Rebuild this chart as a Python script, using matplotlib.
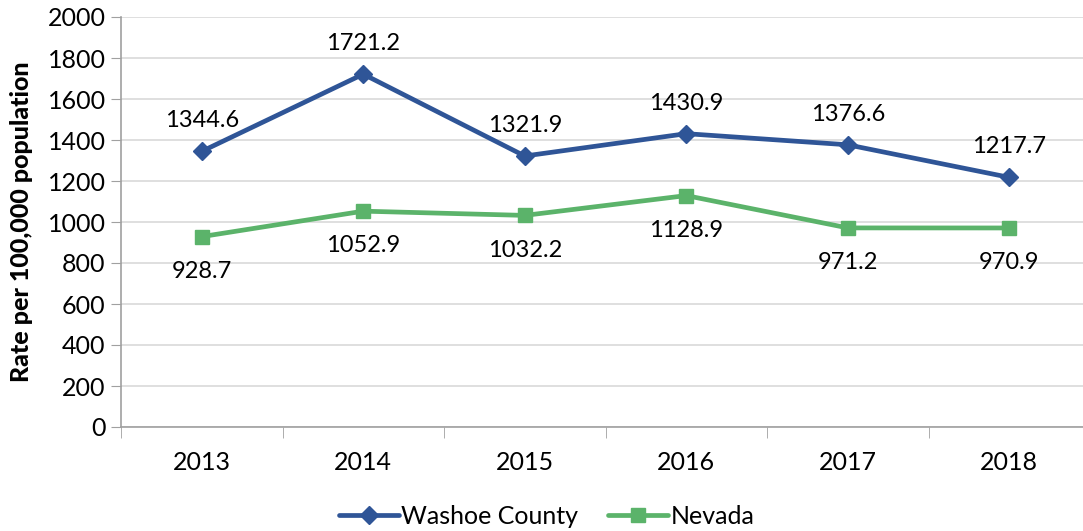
import matplotlib
matplotlib.use("Agg")
import matplotlib.pyplot as plt
import numpy as np

# ── Data ──────────────────────────────────────────────────────────────────────
YEARS   = ["2013", "2014", "2015", "2016", "2017", "2018"]
WASHOE  = [1344.6, 1721.2, 1321.9, 1430.9, 1376.6, 1217.7]
NEVADA  = [928.7, 1052.9, 1032.2, 1128.9, 971.2, 970.9]

BLUE  = "#2F5597"
GREEN = "#5BB36A"
AXIS  = "#A0A0A0"
GRID  = "#D9D9D9"

plt.rcParams["font.family"] = ["Lato", "DejaVu Sans"]

fig = plt.figure(figsize=(10.83, 5.31), dpi=100)
# plot area runs slightly past the right edge, as in the original crop
ax = fig.add_axes([121 / 1083, 104 / 531, 969 / 1083, 410 / 531])

x = np.arange(len(YEARS))
ax.plot(x, WASHOE, color=BLUE, linewidth=3.4, marker="D", markersize=9,
        label="Washoe County", solid_capstyle="round", zorder=3)
ax.plot(x, NEVADA, color=GREEN, linewidth=3.4, marker="s", markersize=10,
        label="Nevada", solid_capstyle="round", zorder=3)

for xi, v in zip(x, WASHOE):
    ax.annotate(f"{v:.1f}", (xi, v), xytext=(0, 22), textcoords="offset points",
                ha="center", va="center", fontsize=17, color="black")
for xi, v in zip(x, NEVADA):
    ax.annotate(f"{v:.1f}", (xi, v), xytext=(0, -25), textcoords="offset points",
                ha="center", va="center", fontsize=17, color="black")

ax.set_xlim(-0.5, len(YEARS) - 0.5)
ax.set_ylim(0, 2000)
ax.set_yticks(range(0, 2001, 200))
ax.tick_params(axis="y", labelsize=18, length=7, color=AXIS, pad=4)

ax.set_xticks(x)
ax.set_xticklabels(YEARS)
ax.set_xticks(np.arange(-0.5, len(YEARS), 1.0), minor=True)
ax.tick_params(axis="x", which="major", length=0, labelsize=18, pad=17)
ax.tick_params(axis="x", which="minor", length=8, color=AXIS)

ax.grid(axis="y", color=GRID, linewidth=1.2, zorder=0)
ax.set_axisbelow(True)
for side in ("top", "right"):
    ax.spines[side].set_visible(False)
for side in ("left", "bottom"):
    ax.spines[side].set_color(AXIS)
    ax.spines[side].set_linewidth(1.2)

ax.set_ylabel("Rate per 100,000 population", fontsize=18, fontweight="black",
              labelpad=8)
ax.yaxis.set_label_coords(-88 / 969, 0.5)

fig.legend(loc="center", bbox_to_anchor=(0.505, 0.028), ncol=2, frameon=False,
           fontsize=18, handlelength=2.4, columnspacing=1.2, handletextpad=0.1)

fig.savefig("out.png", dpi=100)
